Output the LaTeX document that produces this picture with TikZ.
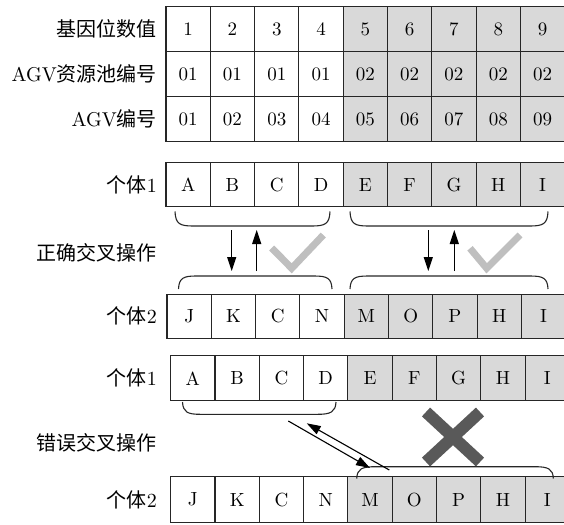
\documentclass[tikz,border=0pt]{standalone}
\usepackage{fontspec}
\setmainfont{lmroman10-regular.otf}
\newfontfamily\cjk{Noto Sans CJK SC}
\usetikzlibrary{arrows.meta}
\definecolor{cellgray}{HTML}{D9D9D9}
\definecolor{checkgray}{HTML}{BFBFBF}
\definecolor{crossgray}{HTML}{595959}
\definecolor{linegray}{HTML}{262626}
\newcommand\mkrow[5]{%
  \foreach \v [count=\i] in {#5} {
    \ifnum\i>4 \def\fc{cellgray}\else\def\fc{white}\fi
    \node[cell=#4, fill=\fc] (#1\i) at ({#2+44.3*(\i-0.5)}, #3) {\v};
  }%
}
\begin{document}
\begin{tikzpicture}[x=1pt,y=-1pt,
  cell/.style={draw=linegray, line width=1.1pt, minimum width=44.3pt, minimum height=#1,
    inner sep=0pt, font=\fontsize{19}{23}\selectfont, anchor=center},
  lab/.style={anchor=east, inner sep=0pt, font=\fontsize{20}{24}\selectfont},
  brace/.style={draw=linegray, line width=1.1pt},
  arr/.style={draw=black, line width=1.1pt, -{Triangle[length=14pt,width=9pt]}},
  check/.style={draw=checkgray, line width=7pt},
  cross/.style={draw=crossgray, line width=12pt}]
\useasboundingbox (0,0) rectangle (564,524);

% table
\node[lab] (lab1) at (157,29.2) {\cjk 基因位数值};
\node[lab] (lab2) at (157,74.2) {AGV{\cjk 资源池编号}};
\node[lab] (lab3) at (157,119.2) {AGV{\cjk 编号}};
\mkrow{ta}{166}{29.2}{45pt}{1,2,3,4,5,6,7,8,9}
\mkrow{tb}{166}{74.2}{45pt}{01,01,01,01,02,02,02,02,02}
\mkrow{tc}{166}{119.2}{45pt}{01,02,03,04,05,06,07,08,09}

% correct crossover
\node[lab] (lab4) at (157,184.7) {{\cjk 个体}1};
\node[lab] (lab5) at (157,253) {\cjk 正确交叉操作};
\node[lab] (lab6) at (157,316.3) {{\cjk 个体}2};
\mkrow{pa}{166}{184.7}{44pt}{A,B,C,D,E,F,G,H,I}
\mkrow{pb}{167}{316.3}{44pt}{J,K,C,N,M,O,P,H,I}

\draw[brace] (175,211.5) .. controls (175.5,224) and (180,226) .. (193,226) -- (312,226) .. controls (325,226) and (329.5,224) .. (330,211.5);
\draw[brace] (350,211.5) .. controls (350.5,224) and (355,226) .. (368,226) -- (530,226) .. controls (543,226) and (547.5,224) .. (548,211.5);
\draw[brace] (178.5,289) .. controls (179,278) and (183.5,276) .. (196,276) -- (314,276) .. controls (327,276) and (331.5,278) .. (332,289);
\draw[brace] (350,289) .. controls (350.5,278) and (355,276) .. (368,276) -- (530,276) .. controls (543,276) and (547.5,278) .. (548,289);

\coordinate (d1s) at (231.7,230);
\coordinate (d1e) at (231.7,271);
\coordinate (u1s) at (256.7,271);
\coordinate (u1e) at (256.7,230);
\coordinate (d2s) at (428.3,230);
\coordinate (d2e) at (428.3,271);
\coordinate (u2s) at (454.3,271);
\coordinate (u2e) at (454.3,230);
\draw[arr] (d1s) -- (d1e);
\draw[arr] (u1s) -- (u1e);
\draw[arr] (d2s) -- (d2e);
\draw[arr] (u2s) -- (u2e);

\draw[check] (271.7,248) -- (291.7,268.3) -- (323.3,235);
\draw[check] (470,248.3) -- (486.7,268.3) -- (520,235);

% wrong crossover
\node[lab] (lab7) at (157,378.3) {{\cjk 个体}1};
\node[lab] (lab8) at (157,443) {\cjk 错误交叉操作};
\node[lab] (lab9) at (157,499.7) {{\cjk 个体}2};
\mkrow{qa}{170.7}{378.3}{45pt}{A,B,C,D,E,F,G,H,I}
\mkrow{qb}{170.7}{499.7}{46pt}{J,K,C,N,M,O,P,H,I}

\draw[brace] (182.5,402) .. controls (183,412) and (187.5,414.3) .. (200,414.3) -- (318,414.3) .. controls (330.5,414.3) and (335.5,412) .. (336,402);
\draw[brace] (356.7,478.5) .. controls (357.2,469) and (361.7,466.7) .. (375,466.7) -- (535,466.7) .. controls (548.3,466.7) and (553,469) .. (553.3,478.5);

\coordinate (w1s) at (288.3,421);
\coordinate (w1e) at (370,468);
\coordinate (w2s) at (389.3,470);
\coordinate (w2e) at (306.7,423.3);
\draw[arr] (w1s) -- (w1e);
\draw[arr] (w2s) -- (w2e);

\draw[cross] (426,412) -- (480,462);
\draw[cross] (480,412) -- (426,462);
\end{tikzpicture}
\end{document}
